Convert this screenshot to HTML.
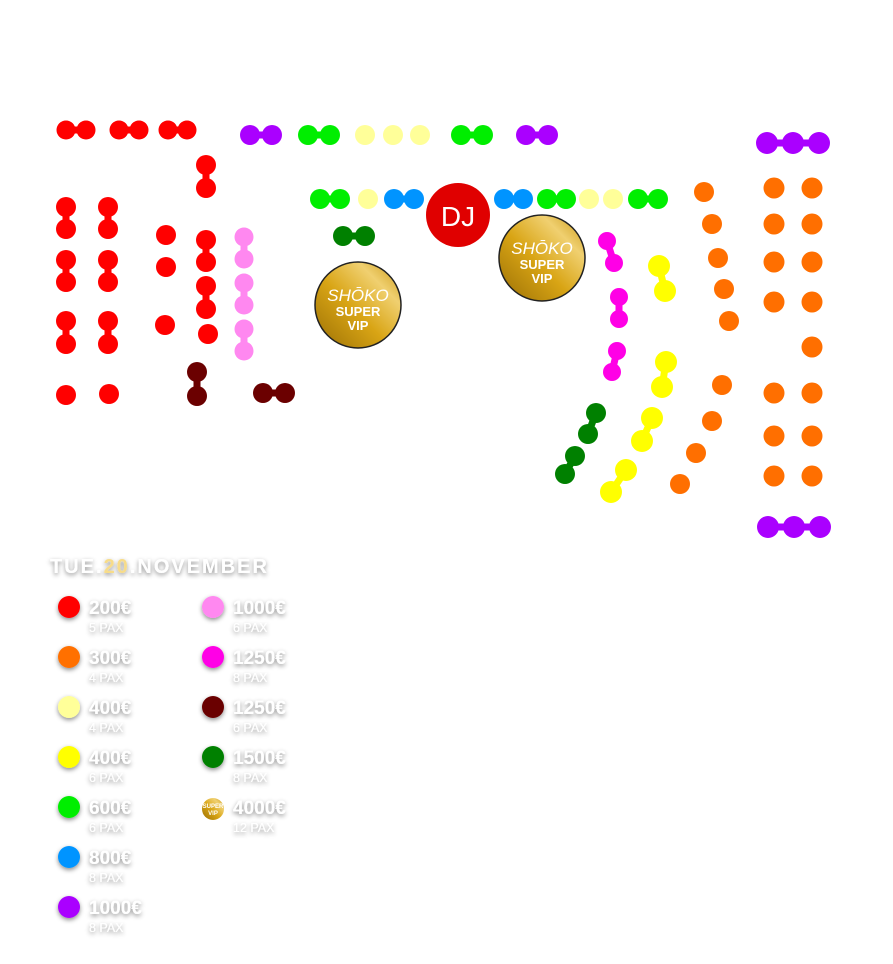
<!DOCTYPE html>
<html><head><meta charset="utf-8"><style>
html,body{margin:0;padding:0;background:#fff;width:893px;height:964px;overflow:hidden}
svg{display:block}
.t{font-family:"Liberation Sans",sans-serif;fill:#fff;filter:url(#sh)}
</style></head><body>
<svg width="893" height="964" viewBox="0 0 893 964" xmlns="http://www.w3.org/2000/svg">
<defs>
<filter id="sh" x="-20%" y="-50%" width="140%" height="200%"><feDropShadow dx="0" dy="2" stdDeviation="2.5" flood-color="#000" flood-opacity="0.45"/></filter>
<linearGradient id="gold" x1="0" y1="1" x2="1" y2="0">
<stop offset="0" stop-color="#9a6f05"/><stop offset="0.45" stop-color="#d9a515"/><stop offset="0.75" stop-color="#f0d070"/><stop offset="1" stop-color="#c8940c"/></linearGradient>
</defs>
<g id="tables"></g>
<circle cx="458" cy="215" r="32" fill="#e00000"/>
<text x="458" y="226" font-family="Liberation Sans,sans-serif" font-size="28" fill="#fff" text-anchor="middle">DJ</text>
<g>
<circle cx="358" cy="305" r="43" fill="url(#gold)" stroke="#222" stroke-width="1.5"/>
<text x="358" y="301" font-family="Liberation Sans,sans-serif" font-size="17" font-style="italic" fill="#fff" text-anchor="middle">SHŌKO</text>
<text x="358" y="316" font-family="Liberation Sans,sans-serif" font-size="13" font-weight="bold" fill="#fff" text-anchor="middle">SUPER</text>
<text x="358" y="330" font-family="Liberation Sans,sans-serif" font-size="13" font-weight="bold" fill="#fff" text-anchor="middle">VIP</text>
<circle cx="542" cy="258" r="43" fill="url(#gold)" stroke="#222" stroke-width="1.5"/>
<text x="542" y="254" font-family="Liberation Sans,sans-serif" font-size="17" font-style="italic" fill="#fff" text-anchor="middle">SHŌKO</text>
<text x="542" y="269" font-family="Liberation Sans,sans-serif" font-size="13" font-weight="bold" fill="#fff" text-anchor="middle">SUPER</text>
<text x="542" y="283" font-family="Liberation Sans,sans-serif" font-size="13" font-weight="bold" fill="#fff" text-anchor="middle">VIP</text>
</g>
<text class="t" x="50" y="573" font-size="20" letter-spacing="2" font-weight="bold">TUE.<tspan fill="#f7dc8a">20</tspan>.NOVEMBER</text>
<g id="legend"></g>
<circle cx="213" cy="809" r="11" fill="url(#gold)"/>
<text x="213" y="808" font-family="Liberation Sans,sans-serif" font-size="6" font-weight="bold" fill="#fff" text-anchor="middle">SUPER</text>
<text x="213" y="815" font-family="Liberation Sans,sans-serif" font-size="6" font-weight="bold" fill="#fff" text-anchor="middle">VIP</text>
<script>
var R='#ff0000',O='#ff6f00',LY='#ffff99',Y='#ffff00',G='#00ee00',B='#0094ff',P='#aa00ff',PK='#ff88f0',M='#ff00e6',DR='#6b0000',DG='#008000';
var T=document.getElementById('tables'),ns='http://www.w3.org/2000/svg';
function c(x,y,col,r){var e=document.createElementNS(ns,'circle');e.setAttribute('cx',x);e.setAttribute('cy',y);e.setAttribute('r',r||10);e.setAttribute('fill',col);T.appendChild(e);}
function l(a,b,d,e2,col){var e=document.createElementNS(ns,'line');e.setAttribute('x1',a);e.setAttribute('y1',b);e.setAttribute('x2',d);e.setAttribute('y2',e2);e.setAttribute('stroke',col);e.setAttribute('stroke-width',7);T.appendChild(e);}
function p(a,b,d,e2,col,r){l(a,b,d,e2,col);c(a,b,col,r);c(d,e2,col,r);}
function t3(y,xs,col){l(xs[0],y,xs[2],y,col);xs.forEach(function(x){c(x,y,col,11)});}
p(66,130,86,130,R,9.5);p(119,130,139,130,R,9.5);p(168,130,187,130,R,9.5);
p(250,135,272,135,P);p(308,135,330,135,G);c(365,135,LY);c(393,135,LY);c(420,135,LY);p(461,135,483,135,G);p(526,135,548,135,P);
t3(143,[767,793,819],P);
p(206,165,206,188,R);
[[207,229],[260,282],[321,344]].forEach(function(a){p(66,a[0],66,a[1],R);p(108,a[0],108,a[1],R);});
c(66,395,R);c(109,394,R);
c(166,235,R);c(166,267,R);c(165,325,R);
p(206,240,206,262,R);p(206,286,206,309,R);c(208,334,R);
p(244,237,244,259,PK,9.5);p(244,283,244,305,PK,9.5);p(244,329,244,351,PK,9.5);
p(197,372,197,396,DR);p(263,393,285,393,DR);
p(320,199,340,199,G);c(368,199,LY);p(394,199,414,199,B);p(504,199,523,199,B);p(547,199,566,199,G);c(589,199,LY);c(613,199,LY);p(638,199,658,199,G);
p(343,236,365,236,DG);
p(607,241,614,263,M,9);p(619,297,619,319,M,9);p(617,351,612,372,M,9);
p(659,266,665,291,Y,11);p(666,362,662,387,Y,11);p(652,418,642,441,Y,11);p(626,470,611,492,Y,11);
p(596,413,588,434,DG);p(575,456,565,474,DG);
[[704,192],[712,224],[718,258],[724,289],[729,321],[722,385],[712,421],[696,453],[680,484]].forEach(function(a){c(a[0],a[1],O);});
[188,224,262,302,393,436,476].forEach(function(y){c(774,y,O,10.5);c(812,y,O,10.5);});c(812,347,O,10.5);
t3(527,[768,794,820],P);
var L=document.getElementById('legend');
function tx(x,y,fs,fw,s){var t=document.createElementNS(ns,'text');t.setAttribute('class','t');t.setAttribute('x',x);t.setAttribute('y',y);t.setAttribute('font-size',fs);if(fw)t.setAttribute('font-weight',fw);t.textContent=s;L.appendChild(t);}
function li(x,y,col,pr,px){var e=document.createElementNS(ns,'circle');e.setAttribute('cx',x);e.setAttribute('cy',y);e.setAttribute('r',11);e.setAttribute('fill',col);e.setAttribute('filter','url(#sh)');L.appendChild(e);
tx(x+20,y+7,19,'bold',pr);tx(x+20,y+25,12.5,null,px);}
var a=[[R,'200€','5 PAX'],[O,'300€','4 PAX'],[LY,'400€','4 PAX'],[Y,'400€','6 PAX'],[G,'600€','6 PAX'],[B,'800€','8 PAX'],[P,'1000€','8 PAX']];
a.forEach(function(v,i){li(69,607+50*i,v[0],v[1],v[2]);});
var b=[[PK,'1000€','6 PAX'],[M,'1250€','8 PAX'],[DR,'1250€','6 PAX'],[DG,'1500€','8 PAX']];
b.forEach(function(v,i){li(213,607+50*i,v[0],v[1],v[2]);});
tx(233,814,19,'bold','4000€');tx(233,832,12.5,null,'12 PAX');
</script>
</svg>
</body></html>
